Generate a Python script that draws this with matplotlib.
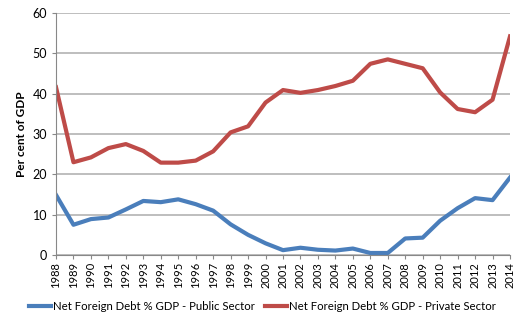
import matplotlib.pyplot as plt

years = list(range(1988, 2015))
public = [14.9, 7.5, 8.9, 9.3, 11.3, 13.4, 13.1, 13.8, 12.6, 11.0, 7.6, 5.0, 2.9,
          1.2, 1.8, 1.3, 1.1, 1.6, 0.5, 0.5, 4.1, 4.3, 8.5, 11.6, 14.1, 13.6, 19.2]
private = [41.6, 23.0, 24.2, 26.5, 27.5, 25.8, 22.9, 22.9, 23.4, 25.7, 30.4, 31.9, 37.8,
           40.9, 40.2, 40.9, 41.9, 43.2, 47.4, 48.5, 47.4, 46.3, 40.3, 36.2, 35.4, 38.5, 54.2]
labels = ["Net Foreign Debt % GDP - Public Sector", "Net Foreign Debt % GDP - Private Sector"]

plt.rcParams['font.family'] = ['Lato', 'DejaVu Sans']

fig = plt.figure(figsize=(5.23, 3.24), dpi=100)
ax = fig.add_axes([56 / 523, 1 - 255 / 324, (510 - 56) / 523, (255 - 13) / 324])

ax.plot(years, public, color='#4a7ebb', lw=3, label=labels[0])
ax.plot(years, private, color='#be4b48', lw=3, label=labels[1])

ax.set_xlim(1988, 2014)
ax.set_ylim(0, 60)
ax.set_yticks(range(0, 61, 10))
ax.set_xticks(years)
ax.set_xticklabels([str(y) for y in years], rotation=90, fontsize=8)
ax.tick_params(axis='y', labelsize=9, length=3, color='#888888')
ax.tick_params(axis='x', length=3, color='#888888', pad=2)
ax.yaxis.grid(True, color='#b3b3b3', lw=1.2)
ax.set_axisbelow(True)
for s in ['top', 'right']:
    ax.spines[s].set_visible(False)
for s in ['left', 'bottom']:
    ax.spines[s].set_color('#888888')
ax.set_ylabel("Per cent of GDP", fontsize=8.5, fontweight='bold', labelpad=4)

fig.legend(loc='center', bbox_to_anchor=(262 / 523, 1 - 306 / 324), ncol=2, frameon=False,
           fontsize=8.2, handlelength=2.0, handletextpad=0.1, columnspacing=0.9,
           borderpad=0, borderaxespad=0)

fig.savefig("out.png", dpi=100)
